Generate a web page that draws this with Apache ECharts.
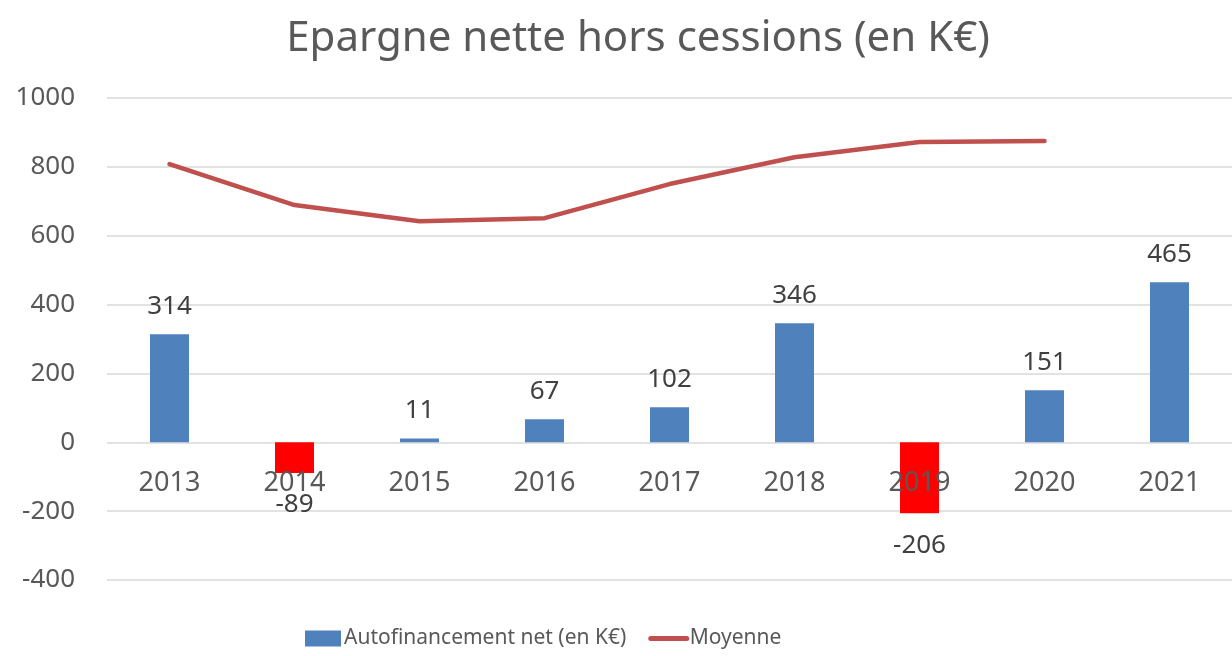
<!DOCTYPE html>
<html>
<head>
<meta charset="utf-8">
<script src="https://cdn.jsdelivr.net/npm/echarts@6/dist/echarts.min.js"></script>
<style>
  html, body { margin: 0; padding: 0; background: #fff; }
  #chart { width: 1232px; height: 656px; }
</style>
</head>
<body>
<div id="chart"></div>
<script>
// valeurs
const years = ['2013', '2014', '2015', '2016', '2017', '2018', '2019', '2020', '2021']
const autofinancement = [314, -89, 11, 67, 102, 346, -206, 151, 465]
const moyenne = [808, 689, 642, 651, 750, 828, 872, 875, null]

const font = 'Noto Sans'
const chart = echarts.init(document.getElementById('chart'))

const option = {
  animation: false,
  textStyle: { fontFamily: font },
  title: {
    text: 'Epargne nette hors cessions (en K€)',
    left: 633,
    textAlign: 'center',
    top: 13,
    textStyle: { fontFamily: font, fontSize: 42, fontWeight: 'normal', color: '#595959' }
  },
  legend: {
    bottom: 2,
    left: 300,
    itemGap: 22,
    itemWidth: 36,
    itemHeight: 16,
    textStyle: { fontFamily: font, fontSize: 21, color: '#595959', padding: [0, 0, 0, -2] },
    data: [
      { name: 'Autofinancement net (en K€)', icon: 'rect' },
      { name: 'Moyenne', itemStyle: { opacity: 0 }, lineStyle: { width: 5, color: '#C0504D' } }
    ]
  },
  grid: { left: 107, right: -13, top: 98, bottom: 76 },
  xAxis: {
    type: 'category',
    data: years,
    axisLine: { show: false },
    axisTick: { show: false },
    axisLabel: { show: false }
  },
  yAxis: {
    type: 'value',
    min: -400,
    max: 1000,
    interval: 200,
    axisLine: { show: false },
    axisTick: { show: false },
    splitLine: { lineStyle: { color: '#d9d9d9', width: 1.5 } },
    axisLabel: { margin: 32, fontSize: 26, color: '#595959', fontFamily: font, formatter: v => String(v) }
  },
  series: [
    {
      name: 'Autofinancement net (en K€)',
      type: 'bar',
      barWidth: 39,
      itemStyle: { color: '#4F81BD' },
      data: autofinancement.map(v => ({
        value: v,
        itemStyle: { color: v < 0 ? '#FF0000' : '#4F81BD' },
        label: { position: v < 0 ? 'bottom' : 'top', distance: v < 0 ? 19 : 15 }
      })),
      label: {
        show: true,
        fontSize: 26,
        color: '#404040',
        fontFamily: font
      },
      z: 2
    },
    {
      name: 'Moyenne',
      type: 'line',
      data: moyenne,
      symbol: 'none',
      lineStyle: { color: '#C0504D', width: 4.5, cap: 'round' },
      itemStyle: { color: '#C0504D' },
      z: 3
    }
  ]
}

chart.setOption(option)

// étiquettes des années sur la ligne du zéro, dessinées par-dessus les barres
const zeroY = chart.convertToPixel({ yAxisIndex: 0 }, 0)
chart.setOption({
  graphic: years.map(y => ({
    type: 'text',
    zlevel: 2,
    z: 100,
    silent: true,
    x: chart.convertToPixel({ xAxisIndex: 0 }, y),
    y: zeroY + 41,
    style: {
      text: y,
      fill: '#595959',
      font: '27px "Noto Sans"',
      align: 'center',
      verticalAlign: 'middle'
    }
  }))
})
</script>
</body>
</html>
